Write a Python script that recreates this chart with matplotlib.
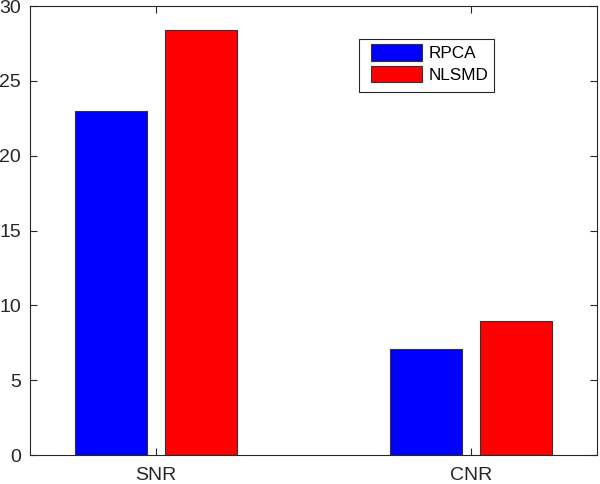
import numpy as np
import matplotlib.pyplot as plt
from matplotlib.patches import Rectangle

plt.rcParams['font.family'] = ['Liberation Sans', 'DejaVu Sans']

categories = ['SNR', 'CNR']
rpca = [23.0, 7.08]
nlsmd = [28.4, 8.95]

fig = plt.figure(figsize=(6, 4.84), dpi=100)
ax = fig.add_axes([30/600, 29/484, 567/600, 449/484])

x = np.arange(1, len(categories) + 1)
w = 0.229
ax.bar(x - 0.143, rpca, w, color='#0000ff', edgecolor='#333333', linewidth=0.8, label='RPCA')
ax.bar(x + 0.143, nlsmd, w, color='#ff0000', edgecolor='#333333', linewidth=0.8, label='NLSMD')

ax.set_xlim(0.6, 2.4)
ax.set_ylim(0, 30)
ax.set_xticks(x)
ax.set_xticklabels(categories)
ax.set_yticks(range(0, 31, 5))
ax.tick_params(direction='in', top=True, right=True, labelsize=14, colors='#262626',
               length=5, width=0.8, pad=6.5)
ax.tick_params(axis='x', pad=8.5)
for s in ax.spines.values():
    s.set_color('#262626')
    s.set_linewidth(0.8)

# legend without its own frame, box drawn by hand to match the reference margins
leg = ax.legend(loc='upper left', bbox_to_anchor=(371/600, 1 - 44/484),
                bbox_transform=fig.transFigure, borderaxespad=0, borderpad=0,
                fontsize=12.3, handlelength=3.0, handleheight=1.15, frameon=False,
                labelspacing=0.25, handletextpad=0.35)
box = Rectangle((359/600, 1 - 92/484), 135/600, 53/484,
                transform=fig.transFigure, facecolor='white',
                edgecolor='#262626', linewidth=0.8, zorder=4, clip_on=False)
ax.add_patch(box)
leg.set_zorder(5)

fig.savefig('out.png')
